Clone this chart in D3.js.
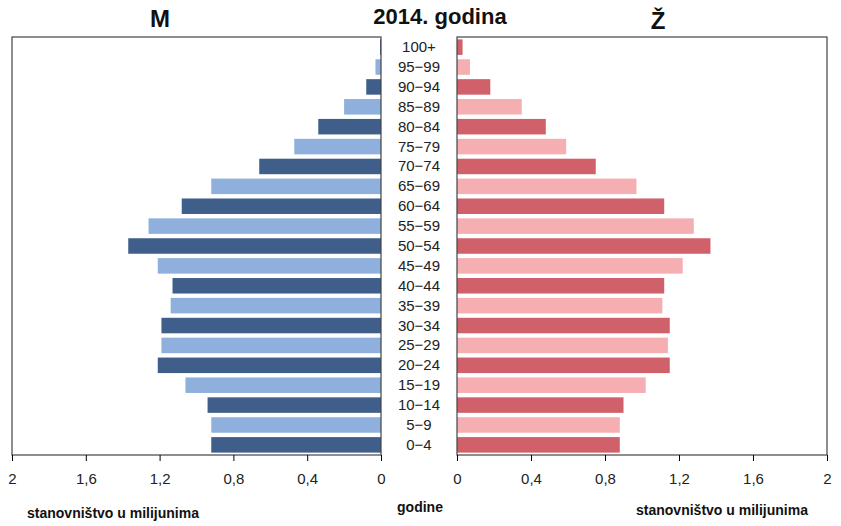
<!DOCTYPE html>
<html><head><meta charset="utf-8">
<script src="https://cdn.jsdelivr.net/npm/d3@7"></script>
<style>body{margin:0;background:#fff}text{font-family:"Liberation Sans",Arial,sans-serif}</style>
</head><body><svg id="c" width="841" height="526"></svg>
<script>
// age groups from youngest to oldest
const ages=["0\u22124","5\u22129","10\u221214","15\u221219","20\u221224","25\u221229","30\u221234","35\u221239","40\u221244","45\u221249","50\u221254","55\u221259","60\u221264","65\u221269","70\u221274","75\u221279","80\u221284","85\u221289","90\u221294","95\u221299","100+"];
const male=[0.92,0.92,0.94,1.06,1.21,1.19,1.19,1.14,1.13,1.21,1.37,1.26,1.08,0.92,0.66,0.47,0.34,0.20,0.08,0.03,0.005];
const female=[0.88,0.88,0.90,1.02,1.15,1.14,1.15,1.11,1.12,1.22,1.37,1.28,1.12,0.97,0.75,0.59,0.48,0.35,0.18,0.07,0.03];
const ticks=[0,0.4,0.8,1.2,1.6,2];

const svg=d3.select("#c");
const yTop=37,yBot=455;
const xl=d3.scaleLinear().domain([0,2]).range([381,12]);
const xr=d3.scaleLinear().domain([0,2]).range([457,827]);
const y=d3.scaleBand().domain(ages).range([yBot,yTop]).paddingInner(0.22).paddingOuter(0.12);
const fmt=d=>String(d).replace(".",",");

svg.selectAll(".m").data(ages).enter().append("rect")
  .attr("x",(d,i)=>xl(male[i])).attr("y",d=>y(d)).attr("height",y.bandwidth())
  .attr("width",(d,i)=>xl(0)-xl(male[i])).attr("fill",(d,i)=>i%2?"#8fb0dc":"#3f5f8a");
svg.selectAll(".f").data(ages).enter().append("rect")
  .attr("x",xr(0)).attr("y",d=>y(d)).attr("height",y.bandwidth())
  .attr("width",(d,i)=>xr(female[i])-xr(0)).attr("fill",(d,i)=>i%2?"#f5aeb1":"#d0606a");

[[xl,12,381],[xr,457,827]].forEach(([s,a,b])=>{
  svg.append("rect").attr("x",a).attr("y",yTop).attr("width",b-a).attr("height",yBot-yTop)
    .attr("fill","none").attr("stroke","#444").attr("stroke-width",1.2);
  svg.append("g").attr("transform",`translate(0,${yBot})`)
    .call(d3.axisBottom(s).tickValues(ticks).tickFormat(fmt).tickSize(6))
    .call(g=>{g.select(".domain").remove();g.selectAll("text").attr("font-size",15).attr("fill","#222").attr("dy","1.3em");});
});

svg.selectAll(".lab").data(ages).enter().append("text")
  .attr("x",419).attr("y",d=>y(d)+y.bandwidth()/2+5).attr("text-anchor","middle")
  .attr("font-size",15).attr("fill","#222").text(d=>d);

const t=(x,yy,s,txt,w)=>svg.append("text").attr("x",x).attr("y",yy).attr("text-anchor","middle")
  .attr("font-size",s).attr("font-weight",w||"bold").attr("fill","#111").text(txt);
t(160,27,24,"M");t(440,24,22,"2014. godina");t(658,29,24,"Ž");
t(113,518,14,"stanovništvo u milijunima");t(420,512,14,"godine");t(722,515,14,"stanovništvo u milijunima");
</script></body></html>
